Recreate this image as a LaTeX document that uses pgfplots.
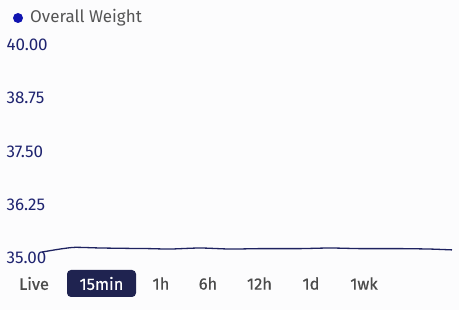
\documentclass[border=0pt]{standalone}
\usepackage{pgfplots}
\pgfplotsset{compat=1.18}
\usepackage{fontspec}
\setmainfont{Fira Sans}
\newfontfamily\btnfont{Fira Sans}[FakeBold=0.5]
\definecolor{bgc}{HTML}{FCFCFD}
\definecolor{ticknavy}{HTML}{1F2470}
\definecolor{linenavy}{HTML}{1E2260}
\definecolor{dotblue}{HTML}{1014B0}
\definecolor{legtext}{HTML}{555555}
\definecolor{btntext}{HTML}{4A4A4A}
\definecolor{btnfill}{HTML}{1F2350}
\begin{document}
\begin{tikzpicture}[x=1pt,y=1pt]
\fill[bgc] (0,0) rectangle (459,310);
\begin{axis}[
  at={(42pt,52pt)}, anchor=south west,
  scale only axis, width=410pt, height=213pt,
  xmin=42, xmax=452, ymin=35, ymax=40,
  axis line style={draw=none},
  major tick length=0pt,
  xtick=\empty,
  ytick={35,36.25,37.5,38.75,40},
  yticklabels={35.00,36.25,37.50,38.75,40.00},
  yticklabel style={anchor=west, xshift=-39pt, text=ticknavy, font=\fontsize{17}{19}\selectfont},
  clip=false,
]
\addplot[linenavy, line width=1.3pt, smooth, tension=0.4] coordinates {
(42,35.14) (60,35.21) (75,35.25) (100,35.235) (130,35.225) (150,35.22) (170,35.21)
(200,35.235) (230,35.21) (260,35.22) (300,35.22) (330,35.235) (360,35.22)
(400,35.22) (430,35.21) (452,35.19)
};
\end{axis}
\fill[dotblue] (18,292) circle (5);
\node[anchor=west, inner sep=0, text=legtext, font=\fontsize{17}{19}\selectfont] at (30,292) {Overall Weight};
\fill[btnfill, rounded corners=4pt] (67,13) rectangle (136,40);
\begin{scope}[every node/.style={font=\btnfont\fontsize{16.5}{18}\selectfont, inner sep=0}]
\node[text=btntext] at (34,26.5) {Live};
\node[text=white] at (101.5,26.5) {15min};
\node[text=btntext] at (161,26.5) {1h};
\node[text=btntext] at (208,26.5) {6h};
\node[text=btntext] at (259.5,26.5) {12h};
\node[text=btntext] at (311,26.5) {1d};
\node[text=btntext] at (364,26.5) {1wk};
\end{scope}
\end{tikzpicture}
\end{document}
